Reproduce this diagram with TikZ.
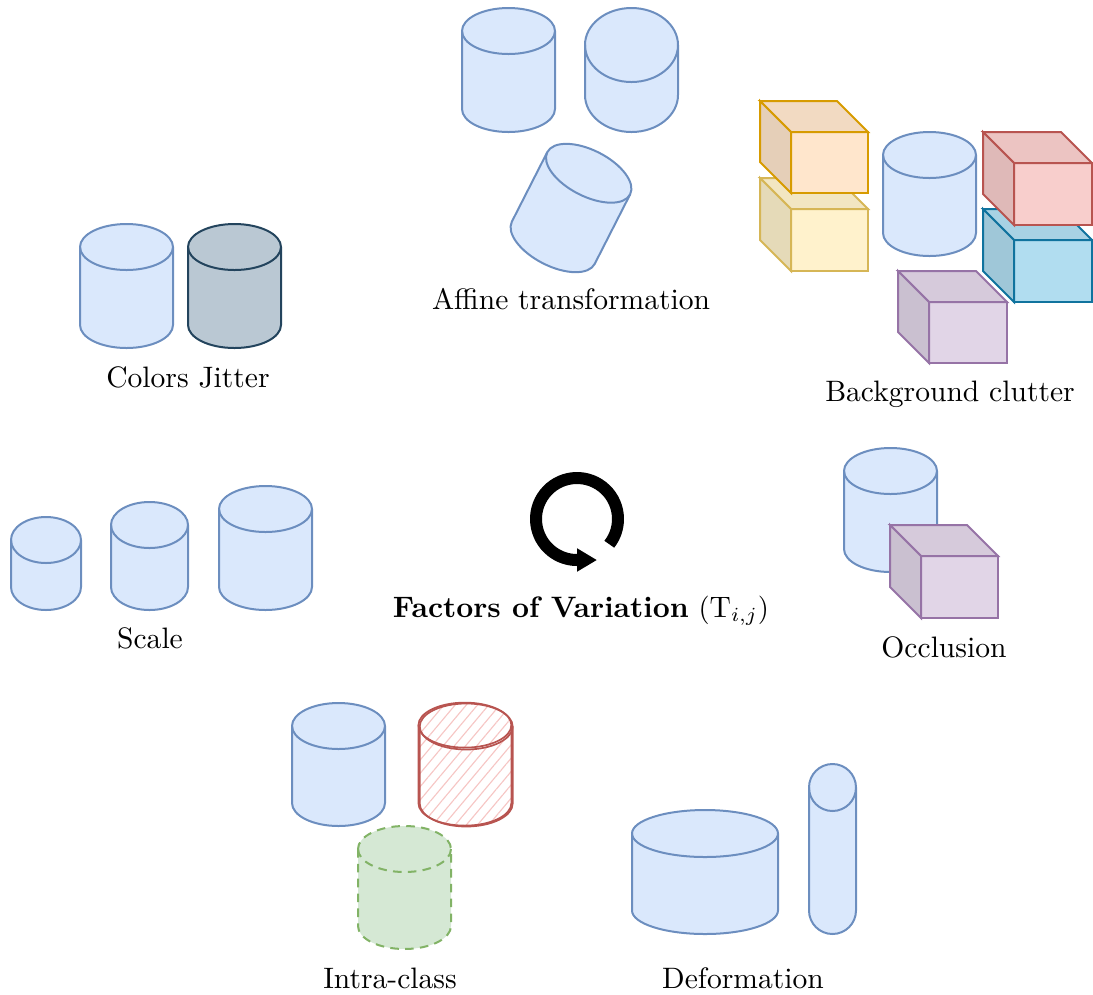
\documentclass[tikz,border=0pt]{standalone}
\usepackage{fontspec}
\usetikzlibrary{arrows.meta,patterns.meta}

\definecolor{blueF}{HTML}{DAE8FC}\definecolor{blueD}{HTML}{6C8EBF}
\definecolor{darkF}{HTML}{BAC8D3}\definecolor{darkD}{HTML}{23445D}
\definecolor{orangeF}{HTML}{FFE6CC}\definecolor{orangeD}{HTML}{D79B00}
\definecolor{yellowF}{HTML}{FFF2CC}\definecolor{yellowD}{HTML}{D6B656}
\definecolor{redF}{HTML}{F8CECC}\definecolor{redD}{HTML}{B85450}
\definecolor{cyanF}{HTML}{B1DDF0}\definecolor{cyanD}{HTML}{10739E}
\definecolor{purpleF}{HTML}{E1D5E7}\definecolor{purpleD}{HTML}{9673A6}
\definecolor{greenF}{HTML}{D5E8D4}\definecolor{greenD}{HTML}{82B366}
\definecolor{hatchC}{HTML}{F6C6C4}

\tikzset{
  x=0.35pt, y=-0.35pt,
  line join=round,
  bluecyl/.style={fill=blueF, draw=blueD, line width=0.7pt},
  darkcyl/.style={fill=darkF, draw=darkD, line width=0.7pt},
  greencyl/.style={fill=greenF, draw=greenD, line width=0.7pt, dash pattern=on 3pt off 2.2pt},
  redsketch/.style={draw=redD, line width=0.6pt},
  redhatch/.style={pattern={Lines[angle=50,distance=3pt,line width=0.4pt]}, pattern color=hatchC},
  lbl/.style={inner sep=0pt, font=\fontsize{10.35}{12.4}\selectfont},
}

% cylinder: [style] {left x}{top y}{width}{height}{ellipse half height}
\newcommand\cyl[6][]{%
  \path[#1] (#2,#3+#6) -- (#2,#3+#5-#6)
     arc[start angle=180,end angle=0,x radius=#4/2,y radius=#6]
     -- (#2+#4,#3+#6)
     arc[start angle=0,end angle=-180,x radius=#4/2,y radius=#6] -- cycle;
  \path[#1,fill=none] (#2,#3+#6)
     arc[start angle=180,end angle=0,x radius=#4/2,y radius=#6];
}
% cylinder outline only, for the hand-drawn look
\newcommand\cylline[6][]{%
  \draw[#1] (#2,#3+#6) -- (#2,#3+#5-#6)
     arc[start angle=180,end angle=0,x radius=#4/2,y radius=#6]
     -- (#2+#4,#3+#6)
     arc[start angle=0,end angle=-180,x radius=#4/2,y radius=#6] -- cycle;
  \draw[#1] (#2,#3+#6)
     arc[start angle=180,end angle=0,x radius=#4/2,y radius=#6];
}
% cube: {left x}{top y}{width}{height}{depth}{fill}{stroke}
\newcommand\cube[7]{%
  \filldraw[fill=#6, draw=#7, line width=0.7pt] (#1+#5,#2+#5) rectangle (#1+#3,#2+#4);
  \filldraw[fill=#6!95!black, draw=#7, line width=0.7pt]
     (#1,#2) -- (#1+#3-#5,#2) -- (#1+#3,#2+#5) -- (#1+#5,#2+#5) -- cycle;
  \filldraw[fill=#6!90!black, draw=#7, line width=0.7pt]
     (#1,#2) -- (#1+#5,#2+#5) -- (#1+#5,#2+#4) -- (#1,#2+#4-#5) -- cycle;
}

\begin{document}
\begin{tikzpicture}
\useasboundingbox (0,0) rectangle (1093,994);

% Affine transformation
\cyl[bluecyl]{462}{8}{93}{124}{23}
\cyl[bluecyl]{585}{8}{93}{124}{37}
\begin{scope}[shift={(571,208)}, rotate=-27]
  \cyl[bluecyl]{-46.5}{-62}{93}{124}{23}
\end{scope}
\node[lbl, anchor=base] (affine) at (571,309) {Affine transformation};

% Colors jitter
\cyl[bluecyl]{80}{224}{93}{124}{23}
\cyl[darkcyl]{188}{224}{93}{124}{23}
\node[lbl, anchor=base] (jitter) at (188,387) {Colors Jitter};

% Background clutter
\cube{760}{178}{108}{93}{31}{yellowF}{yellowD}
\cube{760}{101}{108}{92}{31}{orangeF}{orangeD}
\cyl[bluecyl]{883}{132}{93}{124}{23}
\cube{983}{209}{109}{93}{31}{cyanF}{cyanD}
\cube{983}{132}{109}{93}{31}{redF}{redD}
\cube{898}{271}{109}{92}{31}{purpleF}{purpleD}
\node[lbl, anchor=base] (clutter) at (950,401) {Background clutter};

% Scale
\cyl[bluecyl]{11}{517}{70}{93}{23}
\cyl[bluecyl]{111}{502}{77}{108}{23}
\cyl[bluecyl]{219}{486}{93}{124}{23}
\node[lbl, anchor=base] (scale) at (150,648) {Scale};

% Centre symbol and title
\coordinate (cyc) at (577,519);
\draw[line width=4.2pt, -{Triangle[length=7pt,width=7.7pt]}]
  ([shift={(38:41)}]cyc) arc[start angle=38, end angle=-270, radius=41] -- ++(20,0);
\node[lbl, anchor=base] (title) at (581,617) {\textbf{Factors of Variation} $(\mathrm{T}_{i,j})$};

% Occlusion
\cyl[bluecyl]{844}{448}{93}{124}{23}
\cube{890}{525}{108}{93}{31}{purpleF}{purpleD}
\node[lbl, anchor=base] (occl) at (944,657) {Occlusion};

% Intra-class
\cyl[bluecyl]{292}{703}{93}{123}{23}
\path[redhatch] (419,726) -- (419,803)
   arc[start angle=180,end angle=0,x radius=46.5,y radius=23]
   -- (512,726) arc[start angle=0,end angle=-180,x radius=46.5,y radius=23] -- cycle;
\cylline[redsketch, shift={(0.7,0.5)}]{419}{703}{93}{123}{23}
\cylline[redsketch, shift={(-0.6,-0.4)}]{419}{703}{93}{123}{22.5}
\cyl[greencyl]{358}{826}{93}{123}{23}
\node[lbl, anchor=base] (intra) at (390,988) {Intra-class};

% Deformation
\cyl[bluecyl]{632}{810}{146}{124}{23.5}
\cyl[bluecyl]{809}{764}{47}{170}{23.5}
\node[lbl, anchor=base] (deform) at (743,988) {Deformation};
\end{tikzpicture}
\end{document}
